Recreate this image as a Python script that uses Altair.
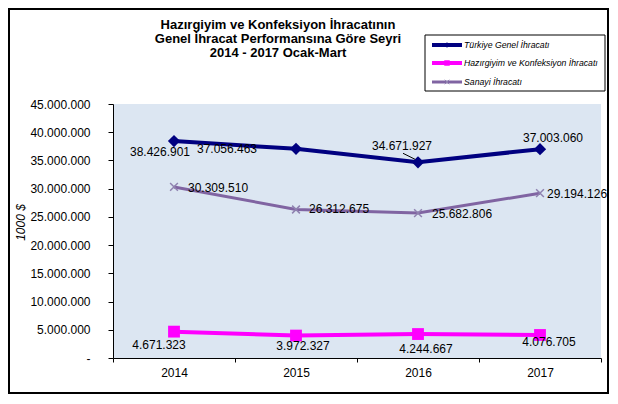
import altair as alt
import pandas as pd

# ---- data ----
years = ["2014", "2015", "2016", "2017"]
turkiye = [38426901, 37056463, 34671927, 37003060]
hazir = [4671323, 3972327, 4244667, 4076705]
sanayi = [30309510, 26312675, 25682806, 29194126]
series_names = ["Türkiye Genel İhracatı",
                "Hazırgiyim ve Konfeksiyon İhracatı",
                "Sanayi İhracatı"]
y_ticks = [0, 5000000, 10000000, 15000000, 20000000, 25000000,
           30000000, 35000000, 40000000, 45000000]
title_lines = ["Hazırgiyim ve Konfeksiyon  İhracatının",
               "Genel İhracat Performansına Göre  Seyri",
               "2014  - 2017  Ocak-Mart"]

# ---- styles ----
W, H = 488, 254
FONT = "Liberation Sans"
colors = ["#000080", "#FF00FF", "#8064A2"]
line_w = [4, 4, 3]
shapes = ["diamond", "square", "M-1,-1L1,1M-1,1L1,-1"]
shape_size = [150, 140, 60]
shape_filled = [True, True, False]
# label offsets (dx, dy, align) per series per year
label_dx = [[-14, -69, -16, 13], [-15, 7, 8, 9], [14, 13, 14, 7]]
label_dy = [[11, 0, -16, -11], [13, 10, 15, 7], [1, 0, 1, 1]]
label_align = ["center", "center", "left"]


def fmt(v):
    return f"{v:,}".replace(",", ".")


frames = []
for name, vals in zip(series_names, [turkiye, hazir, sanayi]):
    frames.append(pd.DataFrame({"year": years, "value": vals, "series": name,
                                "label": [fmt(v) for v in vals]}))
df = pd.concat(frames, ignore_index=True)

x_enc = alt.X("year:O", bandPosition=0.5,
              scale=alt.Scale(type="band", paddingInner=0, paddingOuter=0),
              axis=alt.Axis(title=None, labelAngle=0, tickBand="extent",
                            tickSize=4, tickColor="black", domainColor="black",
                            labelFont=FONT, labelFontSize=12, labelColor="black",
                            labelPadding=5, grid=False))
y_enc = alt.Y("value:Q",
              scale=alt.Scale(domain=[0, 45000000], nice=False, zero=True),
              axis=alt.Axis(values=y_ticks, grid=False,
                            labelExpr="datum.value == 0 ? '-' : replace(replace(format(datum.value, ',d'), ',', '.'), ',', '.')",
                            labelFont=FONT, labelFontSize=12, labelColor="black",
                            labelPadding=18, tickSize=5, tickColor="black",
                            domainColor="black",
                            title="1000 $", titleFont=FONT, titleFontSize=12,
                            titleFontStyle="italic", titleFontWeight="normal",
                            titleColor="black", titleX=-93, titleY=118,
                            titleAngle=270, titleAlign="center",
                            titleBaseline="middle"))

layers = []
for k, name in enumerate(series_names):
    sub = df[df["series"] == name]
    layers.append(alt.Chart(sub).mark_line(color=colors[k], strokeWidth=line_w[k])
                  .encode(x=x_enc, y=y_enc))
for k, name in enumerate(series_names):
    sub = df[df["series"] == name]
    if shape_filled[k]:
        pt = alt.Chart(sub).mark_point(shape=shapes[k], size=shape_size[k], filled=True,
                                       color=colors[k], opacity=1)
    else:
        pt = alt.Chart(sub).mark_point(shape=shapes[k], size=shape_size[k], filled=False,
                                       color="#8F82B0", strokeWidth=1.5, opacity=1)
    layers.append(pt.encode(x=x_enc, y=y_enc))

# data labels
for k, name in enumerate(series_names):
    for i, yr in enumerate(years):
        sub = df[(df["series"] == name) & (df["year"] == yr)]
        layers.append(alt.Chart(sub).mark_text(
            dx=label_dx[k][i], dy=label_dy[k][i], align=label_align[k],
            baseline="middle", font=FONT, fontSize=12, color="black")
            .encode(x=x_enc, y=y_enc, text="label:N"))

# leader line for 2016 Türkiye label
lead = df[(df["series"] == series_names[0]) & (df["year"] == "2016")]
layers.append(alt.Chart(lead).mark_rule(color="black", strokeWidth=1,
                                        xOffset=-15, x2Offset=-3,
                                        yOffset=-9, y2Offset=-3)
              .encode(x=x_enc, x2=alt.X2("year", bandPosition=0.5),
                      y=y_enc, y2=alt.Y2("value")))

one = pd.DataFrame({"a": [0]})

# title
for j, t in enumerate(title_lines):
    layers.append(alt.Chart(pd.DataFrame({"t": [t]})).mark_text(
        font=FONT, fontSize=13, fontWeight="bold", color="black",
        align="center", baseline="alphabetic")
        .encode(x=alt.value(165), y=alt.value(-75 + 14 * j), text="t:N"))

# legend
layers.append(alt.Chart(one).mark_rect(fillOpacity=1, fill="white", stroke="black",
                                       strokeWidth=1)
              .encode(x=alt.value(312), x2=alt.value(492),
                      y=alt.value(-69), y2=alt.value(-13)))
leg_y = [-59, -41, -22]
for k, name in enumerate(series_names):
    layers.append(alt.Chart(one).mark_rule(color=colors[k], strokeWidth=line_w[k])
                  .encode(x=alt.value(319), x2=alt.value(349), y=alt.value(leg_y[k])))
    if shape_filled[k]:
        pt = alt.Chart(one).mark_point(shape=shapes[k], size=30, filled=True,
                                       color=colors[k], opacity=1)
    else:
        pt = alt.Chart(one).mark_point(shape=shapes[k], size=20, filled=False,
                                       color="#8F82B0", strokeWidth=1, opacity=1)
    layers.append(pt.encode(x=alt.value(334), y=alt.value(leg_y[k])))
    layers.append(alt.Chart(pd.DataFrame({"t": [name]})).mark_text(
        font=FONT, fontSize=8.7, fontStyle="italic", color="black",
        align="left", baseline="middle")
        .encode(x=alt.value(351), y=alt.value(leg_y[k]), text="t:N"))

# outer frame
layers.append(alt.Chart(one).mark_rect(fillOpacity=0, stroke="black", strokeWidth=2)
              .encode(x=alt.value(-104), x2=alt.value(495),
                      y=alt.value(-95), y2=alt.value(289)))

chart = alt.layer(*layers).properties(
    width=W, height=H,
    padding={"left": 105, "top": 96, "right": 8, "bottom": 36},
    autosize=alt.AutoSizeParams(type="none"),
    background="white",
).configure_view(fill="#DCE6F2", strokeWidth=0)

chart.save("out.html", embed_options={"renderer": "svg", "actions": False})
